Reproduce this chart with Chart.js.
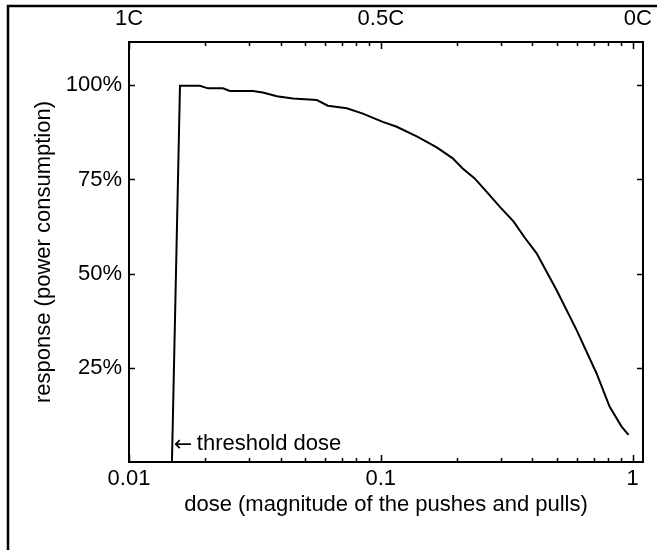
<!DOCTYPE html>
<html>
<head>
<meta charset="utf-8">
<script src="https://cdn.jsdelivr.net/npm/chart.js@4.4.0/dist/chart.umd.min.js"></script>
<style>
	body { margin: 0; background: #fff; }
</style>
</head>
<body>
<canvas id="mycanvas" width="657" height="550"></canvas>
<script>
// dose (x, log) and response in % (y)
var dose = [0.01481, 0.01594, 0.01913, 0.02058, 0.02360, 0.02517, 0.03105, 0.03402,
	0.03867, 0.04475, 0.05572, 0.06161, 0.07329, 0.08485, 0.1018, 0.1157, 0.1402,
	0.1668, 0.1931, 0.2115, 0.2360, 0.2634, 0.2966, 0.3371, 0.3727, 0.4159, 0.4994,
	0.5995, 0.7197, 0.8102, 0.9043, 0.9641];
var response = [0, 99.9, 99.9, 99.2, 99.2, 98.5, 98.5, 98.1,
	97.1, 96.5, 96.1, 94.6, 93.9, 92.5, 90.3, 89.0, 86.3,
	83.5, 80.6, 77.9, 75.3, 71.7, 67.8, 63.8, 59.6, 55.4, 45.6,
	35.0, 23.5, 14.7, 9.4, 7.2];

var xTicks = [0.01, 0.1, 1];
var xMinorTicks = [0.02, 0.03, 0.04, 0.05, 0.06, 0.07, 0.08, 0.09,
	0.2, 0.3, 0.4, 0.5, 0.6, 0.7, 0.8, 0.9];
var topTicks = [0.01, 0.1, 1.05];
var topLabels = ["1C", "0.5C", "0C"];
var yTicks = [25, 50, 75, 100];
var thresholdDose = 0.0148;

var FONT = "'Liberation Sans', Arial, sans-serif";

var points = [];
for (var i in dose) {
	points.push({x: dose[i], y: response[i]});
}

var matlabBox = {
	id: "matlabBox",
	beforeDraw: function(chart) {
		var c = chart.ctx;
		c.save();
		c.fillStyle = "#fff";
		c.fillRect(0, 0, chart.width, chart.height);
		// outer figure frame (top and left edges)
		c.strokeStyle = "#000";
		c.lineWidth = 2.5;
		c.beginPath();
		c.moveTo(8, 550);
		c.lineTo(8, 6);
		c.lineTo(657, 6);
		c.stroke();
		c.restore();
	},
	afterDraw: function(chart) {
		var c = chart.ctx;
		var a = chart.chartArea;
		var xs = chart.scales.x, ys = chart.scales.y;
		c.save();
		c.strokeStyle = "#000";
		c.lineWidth = 2;
		c.strokeRect(a.left, a.top, a.right - a.left, a.bottom - a.top);

		c.lineWidth = 1.5;
		c.beginPath();
		xMinorTicks.forEach(function(v) {
			var px = Math.round(xs.getPixelForValue(v)) + 0.5;
			c.moveTo(px, a.bottom); c.lineTo(px, a.bottom - 4);
			c.moveTo(px, a.top); c.lineTo(px, a.top + 4);
		});
		xTicks.forEach(function(v) {
			var px = Math.round(xs.getPixelForValue(v)) + 0.5;
			c.moveTo(px, a.bottom); c.lineTo(px, a.bottom - 7);
			c.moveTo(px, a.top); c.lineTo(px, a.top + 7);
		});
		yTicks.forEach(function(v) {
			var py = Math.round(ys.getPixelForValue(v)) + 0.5;
			c.moveTo(a.left, py); c.lineTo(a.left + 6, py);
			c.moveTo(a.right, py); c.lineTo(a.right - 6, py);
		});
		c.stroke();

		// threshold annotation
		var tx = xs.getPixelForValue(thresholdDose);
		var ty = ys.getPixelForValue(4.8);
		c.fillStyle = "#000";
		c.textBaseline = "middle";
		c.textAlign = "left";
		c.font = "22px 'DejaVu Sans', sans-serif";
		c.fillText("\u2190", tx + 2, ty + 1);
		c.font = "22px " + FONT;
		c.fillText("threshold dose", tx + 25, ty);
		c.restore();
	}
};

var ctx = document.getElementById("mycanvas");

var chartdata = {
	datasets: [
		{
			label: "response",
			data: points,
			showLine: true,
			borderColor: "#000",
			backgroundColor: "#000",
			borderWidth: 2,
			pointRadius: 0,
			tension: 0,
			xAxisID: "x",
			yAxisID: "y"
		}
	]
};

var LineGraph = new Chart(ctx, {
	type: "scatter",
	data: chartdata,
	plugins: [matlabBox],
	options: {
		responsive: false,
		animation: false,
		devicePixelRatio: 1,
		layout: { padding: { left: 0, right: 14, top: 0, bottom: 30 } },
		plugins: { legend: { display: false }, tooltip: { enabled: false } },
		scales: {
			x: {
				type: "logarithmic",
				position: "bottom",
				min: 0.01,
				max: 1.1,
				grid: { display: false, drawTicks: false },
				border: { display: false },
				afterBuildTicks: function(s) { s.ticks = xTicks.map(function(v) { return {value: v}; }); },
				afterFit: function(s) { s.height = 58; s.paddingLeft = 0; s.paddingRight = 0; },
				ticks: {
					autoSkip: false, maxRotation: 0, padding: 4, color: "#000",
					font: { family: FONT, size: 22, lineHeight: 1.2 },
					callback: function(v) { return String(v); }
				},
				title: {
					display: true, text: "dose (magnitude of the pushes and pulls)", color: "#000",
					font: { family: FONT, size: 22, lineHeight: 1.2 },
					padding: { top: 0, bottom: 2 }
				}
			},
			x2: {
				type: "logarithmic",
				position: "top",
				min: 0.01,
				max: 1.1,
				grid: { display: false, drawTicks: false },
				border: { display: false },
				afterBuildTicks: function(s) { s.ticks = topTicks.map(function(v) { return {value: v}; }); },
				afterFit: function(s) { s.height = 42; s.paddingLeft = 0; s.paddingRight = 0; },
				ticks: {
					autoSkip: false, maxRotation: 0, padding: 10, color: "#000",
					font: { family: FONT, size: 22, lineHeight: 1.2 },
					callback: function(v, i) { return topLabels[i]; }
				}
			},
			y: {
				type: "linear",
				position: "left",
				min: 0,
				max: 111.5,
				grid: { display: false, drawTicks: false },
				border: { display: false },
				afterBuildTicks: function(s) { s.ticks = yTicks.map(function(v) { return {value: v}; }); },
				afterFit: function(s) { s.width = 129; s.paddingTop = 0; s.paddingBottom = 0; },
				ticks: {
					padding: 7, color: "#000",
					font: { family: FONT, size: 22, lineHeight: 1.2 },
					callback: function(v) { return v + "%"; }
				},
				title: {
					display: true, text: "response (power consumption)", color: "#000",
					font: { family: FONT, size: 22, lineHeight: 1.2 },
					padding: { top: 31, bottom: 0 }
				}
			}
		}
	}
});
</script>
</body>
</html>
